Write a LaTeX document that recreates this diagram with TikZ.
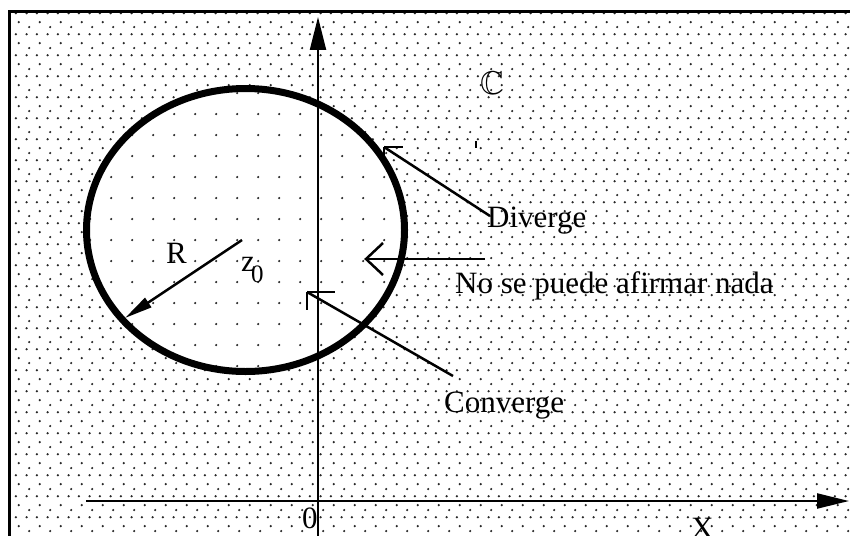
\documentclass[tikz,border=0pt]{standalone}
\usepackage{fontspec}
\setmainfont{Liberation Serif}
\usepackage{amssymb}
\usetikzlibrary{patterns,arrows.meta}

\pgfdeclarepatternformonly{outerdots}{\pgfqpoint{0pt}{0pt}}{\pgfqpoint{20.7pt}{20.7pt}}{\pgfqpoint{20.7pt}{20.7pt}}{%
  \pgfpathcircle{\pgfqpoint{5.65pt}{18pt}}{1.25pt}%
  \pgfpathcircle{\pgfqpoint{16pt}{18pt}}{1.25pt}%
  \pgfpathcircle{\pgfqpoint{19pt}{9pt}}{1.25pt}%
  \pgfpathcircle{\pgfqpoint{8.3pt}{4pt}}{1.25pt}%
  \pgfusepath{fill}}
\pgfdeclarepatternformonly{innerdots}{\pgfqpoint{0pt}{0pt}}{\pgfqpoint{20.7pt}{20.7pt}}{\pgfqpoint{20.7pt}{20.7pt}}{%
  \pgfpathcircle{\pgfqpoint{8.3pt}{4pt}}{1.25pt}%
  \pgfusepath{fill}}

\tikzset{
  lbl/.style={font=\fontsize{31}{36}\selectfont, inner sep=0pt, anchor=base west},
  conn/.style={line width=2.5pt, line cap=butt},
  axis/.style={line width=2.2pt},
}

\begin{document}
\begin{tikzpicture}[x=1pt,y=-1pt]
\useasboundingbox (0,0) rectangle (850,535);
% background dots
\fill[pattern=outerdots, pattern color=black!85] (10.5,13) rectangle (851,536);
\fill[white] (245.5,230) ellipse [x radius=159, y radius=141.5];
\fill[pattern=innerdots, pattern color=black!85] (245.5,230) ellipse [x radius=159, y radius=141.5];
% frame
\draw[line width=3pt] (9,600) -- (9,11.5) -- (900,11.5);
% circle
\draw[line width=7pt] (245.5,230) ellipse [x radius=159, y radius=141.5];
% axes
\coordinate (ybot) at (318,545);
\coordinate (ytop) at (318,17);
\coordinate (xleft) at (86,501);
\coordinate (xright) at (849,501);
\draw[axis, -{Triangle[length=33pt,width=16pt]}] (ybot) -- (ytop);
\draw[axis, -{Triangle[length=32pt,width=15pt]}] (xleft) -- (xright);
% labels
\node[lbl] (div) at (487,227) {Diverge};
\node[lbl] (nose) at (455,293) {No se puede afirmar nada};
\node[lbl] (conv) at (444,412) {Converge};
\node[lbl] (R) at (166,263) {R};
\node[lbl] (z) at (241,271) {z};
\node[lbl, font=\fontsize{25}{30}\selectfont] (zsub) at (251,282) {0};
\node[lbl] (orig) at (302,528) {0};
\node[lbl] (X) at (691,538) {X};
\node[inner sep=0pt, font=\fontsize{33}{36}\selectfont] (CC) at (492,83) {$\mathbb{C}$};
% radius arrow
\coordinate (center) at (242,240);
\coordinate (rim) at (125,318);
\draw[line width=2.5pt, -{Triangle[length=28pt,width=11pt]}] (center) -- (rim);
% Diverge connector
\coordinate (divtail) at (490,216);
\coordinate (divtip) at (384,147);
\draw[conn] (divtail) -- (divtip);
\draw[conn] (divtip) -- ++(19,0);
\draw[conn] (divtip) -- ++(0,18);
% No se puede connector
\coordinate (nosetail) at (485,259);
\coordinate (nosetip) at (366,259);
\draw[conn] (nosetail) -- (nosetip);
\draw[conn] (383,243) -- (nosetip) -- (383,275);
% Converge connector
\coordinate (convtail) at (453,376);
\coordinate (convtip) at (307,292);
\draw[conn] (convtail) -- (convtip);
\draw[conn] (convtip) -- ++(28,0);
\draw[conn] (convtip) -- ++(0,18);
% small tick
\coordinate (tka) at (476,141);
\coordinate (tkb) at (476,148);
\draw[line width=2pt] (tka) -- (tkb);
\end{tikzpicture}
\end{document}
